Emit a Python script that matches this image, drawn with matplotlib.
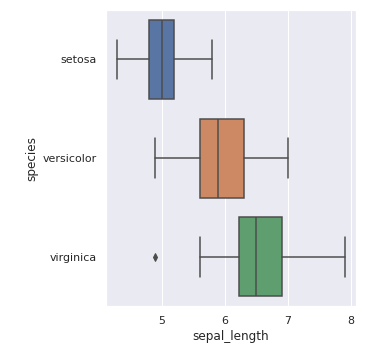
import matplotlib
matplotlib.use("Agg")
import matplotlib.pyplot as plt
import seaborn as sns

# iris sepal_length summary per species
species = ["setosa", "versicolor", "virginica"]
whislo = [4.3, 4.9, 5.6]
q1 = [4.8, 5.6, 6.225]
med = [5.0, 5.9, 6.5]
q3 = [5.2, 6.3, 6.9]
whishi = [5.8, 7.0, 7.9]
fliers = [[], [], [4.9]]

sns.set_theme()
colors = sns.color_palette("deep", 3, desat=0.75)
gray = "#4c4c4c"

stats = []
for i, name in enumerate(species):
    stats.append(dict(label=name, whislo=whislo[i], q1=q1[i], med=med[i],
                      q3=q3[i], whishi=whishi[i], fliers=fliers[i]))

fig = plt.figure(figsize=(390 / 72, 356 / 72), dpi=72)
ax = fig.add_axes([0.272, 0.140, 0.641, 0.832])

bp = ax.bxp(stats, positions=range(3), vert=False, widths=0.8,
            patch_artist=True, showfliers=True,
            boxprops=dict(edgecolor=gray, linewidth=1.5),
            medianprops=dict(color=gray, linewidth=1.5),
            whiskerprops=dict(color=gray, linewidth=1.5),
            capprops=dict(color=gray, linewidth=1.5),
            flierprops=dict(marker="d", markerfacecolor=gray, markeredgecolor=gray,
                            markersize=5, linestyle="none"))
for patch, c in zip(bp["boxes"], colors):
    patch.set_facecolor(c)

ax.set_ylim(2.5, -0.5)
ax.set_xlim(4.12, 8.08)
ax.set_xticks([5, 6, 7, 8])
ax.set_yticks(range(3))
ax.set_yticklabels(species)
ax.yaxis.grid(False)
ax.set_xlabel("sepal_length")
ax.set_ylabel("species")

fig.savefig("out.png", dpi=72)
